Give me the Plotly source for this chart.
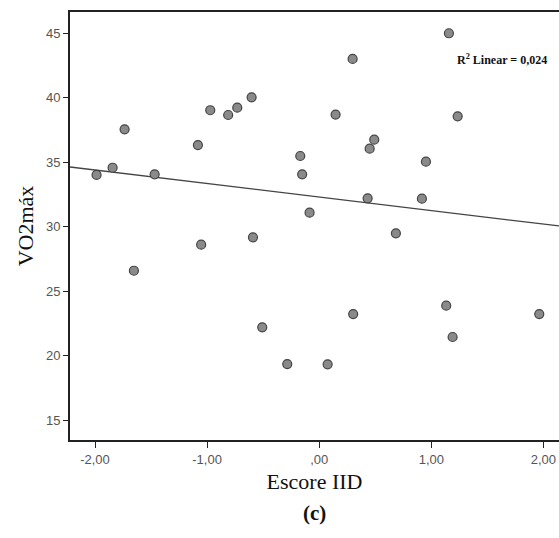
import numpy as np
import plotly.graph_objects as go

# Data
escore_iid = [-1.986, -1.843, -1.736, -1.653, -1.468, -1.082, -1.053, -0.972,
              -0.812, -0.731, -0.603, -0.591, -0.508, -0.285, -0.169, -0.152,
              -0.086, 0.075, 0.146, 0.298, 0.303, 0.432, 0.450, 0.491,
              0.684, 0.916, 0.952, 1.133, 1.157, 1.190, 1.235, 1.963]
vo2max = [34.01, 34.57, 37.55, 26.58, 34.06, 36.33, 28.60, 39.03,
          38.66, 39.23, 40.03, 29.17, 22.19, 19.34, 35.48, 34.06,
          31.08, 19.32, 38.69, 43.01, 23.22, 32.20, 36.05, 36.75,
          29.48, 32.17, 35.04, 23.87, 45.00, 21.44, 38.56, 23.22]

x_tickvals = [-2, -1, 0, 1, 2]
x_ticktext = ["-2,00", "-1,00", ",00", "1,00", "2,00"]
y_tickvals = [15, 20, 25, 30, 35, 40, 45]
r2_label = "R<sup>2</sup> Linear = 0,024"

x_range = [-2.223, 2.139]
y_range = [13.45, 46.65]

x = np.array(escore_iid)
y = np.array(vo2max)
slope, intercept = np.polyfit(x, y, 1)
line_x = np.array(x_range)
line_y = intercept + slope * line_x

fig = go.Figure()
fig.add_trace(go.Scatter(x=line_x, y=line_y, mode="lines",
                         line=dict(color="#444444", width=1.3),
                         hoverinfo="skip", showlegend=False))
fig.add_trace(go.Scatter(x=escore_iid, y=vo2max, mode="markers",
                         marker=dict(size=9, color="#8a8a8a",
                                     line=dict(color="#444444", width=1.2)),
                         showlegend=False))

fig.add_annotation(x=0.788, xref="paper", y=0.89, yref="paper",
                   text="<b>" + r2_label + "</b>", showarrow=False,
                   xanchor="left", yanchor="middle",
                   font=dict(family="Liberation Serif", size=12, color="#111111"))
fig.add_annotation(x=0.5, xref="paper", y=-0.17, yref="paper",
                   text="<b>(c)</b>", showarrow=False,
                   xanchor="center", yanchor="middle",
                   font=dict(family="Liberation Serif", size=21, color="#111111"))

fig.update_layout(
    width=559, height=538,
    margin=dict(l=70, r=0, t=12, b=98),
    plot_bgcolor="white", paper_bgcolor="white",
    font=dict(family="Liberation Sans", size=13, color="#555555"),
)
fig.update_xaxes(range=x_range, tickvals=x_tickvals, ticktext=x_ticktext,
                 showgrid=False, zeroline=False, showline=True,
                 linecolor="#222222", linewidth=2, mirror=True,
                 ticks="outside", ticklen=6, tickwidth=1.2, tickcolor="#222222",
                 title=dict(text="Escore IID", standoff=8,
                            font=dict(family="Liberation Serif", size=22, color="#111111")))
fig.update_yaxes(range=y_range, tickvals=y_tickvals,
                 showgrid=False, zeroline=False, showline=True,
                 linecolor="#222222", linewidth=2,
                 ticks="outside", ticklen=5, tickwidth=1.2, tickcolor="#222222",
                 title=dict(text="VO2máx", standoff=6,
                            font=dict(family="Liberation Serif", size=22, color="#111111")))

fig.write_html("out.html",
               config={"displayModeBar": False},
               post_script="document.body.style.margin='0px';"
                           "document.body.style.overflow='hidden';")
